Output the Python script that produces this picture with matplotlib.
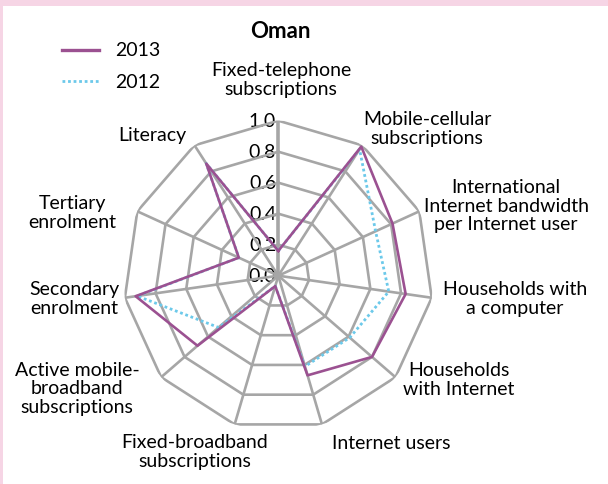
import numpy as np
import matplotlib
matplotlib.use('Agg')
import matplotlib.pyplot as plt
from matplotlib.patches import Rectangle

# --- data ---
indicators = [
    "Fixed-telephone\nsubscriptions",
    "Mobile-cellular\nsubscriptions",
    "International\nInternet bandwidth\nper Internet user",
    "Households with\na computer",
    "Households\nwith Internet",
    "Internet users",
    "Fixed-broadband\nsubscriptions",
    "Active mobile-\nbroadband\nsubscriptions",
    "Secondary\nenrolment",
    "Tertiary\nenrolment",
    "Literacy",
]
values_2013 = [0.16, 0.99, 0.81, 0.83, 0.80, 0.67, 0.07, 0.69, 0.93, 0.28, 0.86]
values_2012 = [0.16, 0.97, 0.69, 0.72, 0.61, 0.61, 0.07, 0.51, 0.92, 0.28, 0.86]
ring_levels = [0.2, 0.4, 0.6, 0.8, 1.0]
tick_labels = ["0.0", "0.2", "0.4", "0.6", "0.8", "1.0"]

# label centres in figure pixels (x, y from top)
label_pos = [(281, 80), (427, 129), (506, 206), (515, 299), (459, 380),
             (391, 444), (195, 452), (77, 389), (74, 299), (72, 213), (152, 136)]

W, H = 608, 485
FONT = ['Lato', 'DejaVu Sans']
GRID = '#A6A6A6'
C13 = '#9B5191'
C12 = '#6CC9EA'
TXT = '#000000'

plt.rcParams['font.family'] = FONT

fig = plt.figure(figsize=(W / 100, H / 100), dpi=100)
fig.patch.set_facecolor('white')
# pink frame strips (top and left)
fig.patches.append(Rectangle((0, 1 - 7 / H), 1, 7 / H, transform=fig.transFigure,
                             facecolor='#F6D5E5', edgecolor='none', zorder=0))
fig.patches.append(Rectangle((0, 0), 3 / W, 1, transform=fig.transFigure,
                             facecolor='#F6D5E5', edgecolor='none', zorder=0))

cx, cy, R = 278.3, 276.7, 155
ax = fig.add_axes([(cx - R) / W, (H - cy - R) / H, 2 * R / W, 2 * R / H],
                  projection='polar')
ax.set_theta_zero_location('N')
ax.set_theta_direction(-1)
ax.set_ylim(0, 1)
ax.grid(False)
ax.spines['polar'].set_visible(False)
ax.set_xticks([])
ax.set_yticks([])
ax.patch.set_alpha(0)

n = len(indicators)
angles = np.arange(n) * 2 * np.pi / n
closed = np.append(angles, angles[0])

# polygon rings
for lvl in ring_levels:
    ax.plot(closed, [lvl] * (n + 1), color=GRID, lw=1.9, zorder=2,
            solid_joinstyle='miter')
# spokes
for i, a in enumerate(angles):
    ax.plot([a, a], [0, 1], color=GRID, lw=2.6 if i == 0 else 1.9, zorder=2)

# tick labels along the vertical axis
for lvl, txt in zip([0.0] + ring_levels, tick_labels):
    ax.annotate(txt, xy=(0, lvl), xytext=(-1.5, 0), textcoords='offset points',
                ha='right', va='center', fontsize=14, color=TXT, zorder=1)

# series
v12 = np.append(values_2012, values_2012[0])
v13 = np.append(values_2013, values_2013[0])
ax.plot(closed, v12, color=C12, lw=2.0, ls=(0, (1, 1)), zorder=3)
ax.plot(closed, v13, color=C13, lw=1.9, zorder=4)

# category labels
for txt, (px, py) in zip(indicators, label_pos):
    fig.text(px / W, 1 - py / H, txt, ha='center', va='center', fontsize=14,
             color=TXT, linespacing=1.12, multialignment='center')

# title
fig.text(280 / W, 1 - 32 / H, 'Oman', ha='center', va='center', fontsize=16,
         fontweight='bold', color=TXT)

# legend
fig.add_artist(plt.Line2D([62 / W, 99 / W], [1 - 51 / H] * 2, color=C13, lw=2.4))
fig.add_artist(plt.Line2D([62 / W, 99 / W], [1 - 82 / H] * 2, color=C12, lw=2.0,
                          ls=(0, (1, 1))))
fig.text(115 / W, 1 - 51 / H, '2013', ha='left', va='center', fontsize=14, color=TXT)
fig.text(115 / W, 1 - 82 / H, '2012', ha='left', va='center', fontsize=14, color=TXT)

fig.savefig('out.png', dpi=100, facecolor='white')
